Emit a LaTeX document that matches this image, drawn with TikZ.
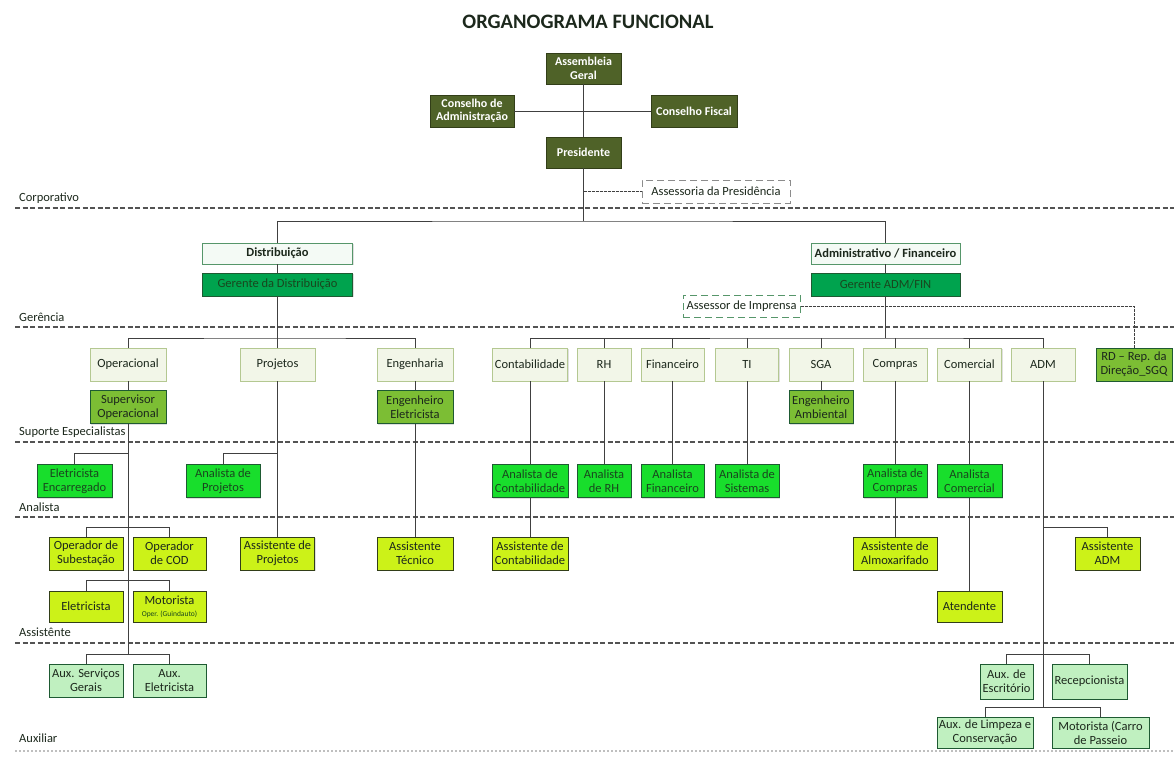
\documentclass[tikz,border=0pt]{standalone}
\usepackage{fontspec}
\setmainfont{Carlito}
\usetikzlibrary{shadows}

\definecolor{olivebg}{RGB}{79,98,40}
\definecolor{olivedk}{RGB}{50,62,24}
\definecolor{areabg}{RGB}{244,250,245}
\definecolor{arealine}{RGB}{86,150,106}
\definecolor{gerbg}{RGB}{0,163,78}
\definecolor{gerline}{RGB}{30,90,50}
\definecolor{deptbg}{RGB}{242,246,232}
\definecolor{deptline}{RGB}{180,200,145}
\definecolor{supbg}{RGB}{124,190,52}
\definecolor{anbg}{RGB}{24,222,44}
\definecolor{asbg}{RGB}{204,242,24}
\definecolor{auxbg}{RGB}{192,240,192}
\definecolor{darkline}{RGB}{55,70,40}
\definecolor{txtdark}{RGB}{28,40,28}
\definecolor{txtgreen}{RGB}{25,70,30}
\definecolor{connline}{RGB}{64,64,64}

\tikzset{
  box/.style={draw=darkline, line width=0.9pt, align=center, inner sep=1pt, text=txtdark,
    font=\fontsize{12.5}{14}\selectfont,
    drop shadow={shadow xshift=1.3pt, shadow yshift=-1.3pt, opacity=0.25}},
  olivebox/.style={box, fill=olivebg, draw=olivedk, text=white, font=\bfseries\fontsize{12}{13.5}\selectfont, minimum width=75pt, minimum height=31pt},
  areabox/.style={box, fill=areabg, draw=arealine, font=\bfseries\fontsize{12.5}{14}\selectfont, minimum height=21pt},
  gerbox/.style={box, fill=gerbg, draw=gerline, text=txtgreen, minimum height=23pt},
  deptbox/.style={box, fill=deptbg, draw=deptline, minimum height=33pt},
  supbox/.style={box, fill=supbg, draw=gerline, minimum height=33pt},
  anbox/.style={box, fill=anbg, draw=gerline, text=txtgreen, minimum height=33pt},
  asbox/.style={box, fill=asbg, draw=olivedk, minimum height=33pt},
  auxbox/.style={box, fill=auxbg, draw=gerline, minimum height=33pt},
  assbox/.style={draw=#1, dash pattern=on 7pt off 4pt, line width=1pt, fill=white, inner sep=1pt,
    text=txtdark, font=\fontsize{12.5}{14}\selectfont},
  conn/.style={draw=connline, line width=0.9pt},
  dconn/.style={draw=connline, line width=0.8pt, dash pattern=on 3pt off 1pt},
  lvl/.style={draw=connline!90, line width=1.1pt, dash pattern=on 5pt off 2.5pt},
  lvltxt/.style={anchor=west, inner sep=0pt, text=txtdark, font=\fontsize{12.5}{14}\selectfont}
}

\begin{document}
\begin{tikzpicture}[x=1pt,y=-1pt]
\useasboundingbox (0,0) rectangle (1174,758);
\fill[white] (0,0) rectangle (1174,758);

\node[inner sep=0pt, text=txtdark, font=\bfseries\fontsize{20.5}{22}\selectfont] (title) at (588,22) {ORGANOGRAMA FUNCIONAL};

\draw[lvl] (15,208) -- (1174,208);
\draw[lvl] (15,327) -- (1174,327);
\draw[lvl] (15,442) -- (1174,442);
\draw[lvl] (15,517) -- (1174,517);
\draw[lvl] (15,643) -- (1174,643);
\draw[lvl, draw=black!25, dash pattern=on 2pt off 2pt] (15,751) -- (1174,751);
\node[lvltxt] (lcorp) at (19,198) {Corporativo};
\node[lvltxt] (lger) at (19,317) {Gerência};
\node[lvltxt] (lsup) at (19,432) {Suporte Especialistas};
\node[lvltxt] (lana) at (19,507) {Analista};
\node[lvltxt] (lass) at (19,632) {Assistênte};
\node[lvltxt] (laux) at (19,738) {Auxiliar};

\node[olivebox] (asm) at (583.5,68.5) {Assembleia\\Geral};
\node[olivebox, minimum width=84pt, minimum height=32pt] (cadm) at (472,111) {Conselho de\\Administração};
\node[olivebox, minimum width=86pt, minimum height=32pt] (cfis) at (694,111) {Conselho Fiscal};
\node[olivebox] (pres) at (583.5,152.5) {Presidente};
\node[assbox=black!45, minimum width=148pt, minimum height=23pt] (asspres) at (716,191.5) {Assessoria da Presidência};

\node[areabox, minimum width=150pt] (dist) at (277.5,253.5) {Distribuição};
\node[gerbox, minimum width=150pt] (gdist) at (277.5,284.5) {Gerente da Distribuição};
\node[areabox, minimum width=149pt] (admfin) at (885.5,253.5) {Administrativo / Financeiro};
\node[gerbox, minimum width=149pt] (gadm) at (885.5,284.5) {Gerente ADM/FIN};
\node[assbox=arealine, minimum width=117pt, minimum height=22pt] (assimp) at (741.5,306) {Assessor de Imprensa};

\node[deptbox, minimum width=76pt] (oper) at (128,364.5) {Operacional};
\node[deptbox, minimum width=75pt] (proj) at (277.5,364.5) {Projetos};
\node[deptbox, minimum width=76pt] (eng) at (415,364.5) {Engenharia};
\node[deptbox, minimum width=75pt] (cont) at (530,364.5) {Contabilidade};
\node[deptbox, minimum width=54pt] (rh) at (604,364.5) {RH};
\node[deptbox, minimum width=63pt] (fin) at (672.5,364.5) {Financeiro};
\node[deptbox, minimum width=63pt] (ti) at (747,364.5) {TI};
\node[deptbox, minimum width=64pt] (sga) at (821,364.5) {SGA};
\node[deptbox, minimum width=64pt] (comp) at (895,364.5) {Compras};
\node[deptbox, minimum width=64pt] (come) at (969.5,364.5) {Comercial};
\node[deptbox, minimum width=64pt] (adm) at (1043,364.5) {ADM};
\node[supbox, minimum width=76pt] (rd) at (1134,364.5) {RD – Rep. da\\Direção\_SGQ};

\node[supbox, minimum width=76pt] (sup) at (128,407) {Supervisor\\Operacional};
\node[supbox, minimum width=76pt] (engel) at (415,407) {Engenheiro\\Eletricista};
\node[supbox, minimum width=64pt] (engamb) at (821,407) {Engenheiro\\Ambiental};

\node[anbox, minimum width=75pt] (eletenc) at (74.5,481) {Eletricista\\Encarregado};
\node[anbox, minimum width=74pt] (anproj) at (223,481) {Analista de\\Projetos};
\node[anbox, minimum width=76pt] (ancont) at (530,481) {Analista de\\Contabilidade};
\node[anbox, minimum width=54pt] (anrh) at (604,481) {Analista\\de RH};
\node[anbox, minimum width=63pt] (anfin) at (672.5,481) {Analista\\Financeiro};
\node[anbox, minimum width=64pt] (ansis) at (747,481) {Analista de\\Sistemas};
\node[anbox, minimum width=64pt] (ancomp) at (895,481) {Analista de\\Compras};
\node[anbox, minimum width=65pt] (ancome) at (969.5,481) {Analista\\Comercial};

\node[asbox, minimum width=74pt] (opsub) at (86,553.5) {Operador de\\Subestação};
\node[asbox, minimum width=73pt] (opcod) at (169.5,553.5) {Operador\\de COD};
\node[asbox, minimum width=74pt] (asproj) at (277.5,553.5) {Assistente de\\Projetos};
\node[asbox, minimum width=76pt] (astec) at (415,553.5) {Assistente\\Técnico};
\node[asbox, minimum width=76pt] (ascont) at (530,553.5) {Assistente de\\Contabilidade};
\node[asbox, minimum width=84pt] (asalm) at (895,553.5) {Assistente de\\Almoxarifado};
\node[asbox, minimum width=65pt] (asadm) at (1107.5,553.5) {Assistente\\ADM};

\node[asbox, minimum width=74pt, minimum height=31pt] (eletr) at (86,606.5) {Eletricista};
\node[asbox, minimum width=73pt, minimum height=31pt] (motor) at (169.5,606.5) {Motorista\\[-2pt]{\fontsize{7.5}{8}\selectfont\color{txtgreen}Oper. (Guindauto)}};
\node[asbox, minimum width=65pt, minimum height=31pt] (atend) at (969.5,606.5) {Atendente};

\node[auxbox, minimum width=74pt] (auxsg) at (86,680.5) {Aux. Serviços\\Gerais};
\node[auxbox, minimum width=73pt] (auxel) at (169.5,680.5) {Aux.\\Eletricista};
\node[auxbox, minimum width=53pt, minimum height=35pt] (auxesc) at (1006.5,681.5) {Aux. de\\Escritório};
\node[auxbox, minimum width=75pt, minimum height=35pt] (recep) at (1089.5,681.5) {Recepcionista};
\node[auxbox, minimum width=96pt, minimum height=31pt] (auxlimp) at (985,732.5) {Aux. de Limpeza e\\Conservação};
\node[auxbox, minimum width=97pt, minimum height=31pt] (motcar) at (1100.5,732.5) {Motorista (Carro\\de Passeio};

\coordinate (b0) at (583.5,221);
\coordinate (b1) at (277.5,338);
\coordinate (b2) at (885.5,338);
\coordinate (o1) at (128,453);
\coordinate (o2) at (128,527);
\coordinate (o3) at (128,580);
\coordinate (o4) at (128,654);
\coordinate (p1) at (277.5,453);
\coordinate (a1) at (1043,527);
\coordinate (a2) at (1043,654);
\coordinate (a3) at (1043,707);

\draw[conn] (asm) -- (pres);
\draw[conn] (cadm) -- (cfis);
\draw[conn] (pres) -- (b0);
\draw[dconn] (pres.south |- asspres.west) -- (asspres.west);
\draw[conn] (dist.north) |- (b0) -| (admfin.north);
\draw[conn] (dist) -- (gdist);
\draw[conn] (admfin) -- (gadm);
\draw[dconn] (assimp.east) -| (rd.north);

\draw[conn] (gdist) -- (proj);
\draw[conn] (oper.north) |- (b1) -| (eng.north);
\draw[conn] (gadm) -- (b2);
\draw[conn] (cont.north) |- (b2) -| (adm.north);
\foreach \d in {rh,fin,ti,sga,comp,come}
  \draw[conn] (\d.north) -- (\d.north |- b2);

\draw[conn] (oper) -- (sup);
\draw[conn] (sup) -- (o4);
\draw[conn] (o1) -| (eletenc.north);
\draw[conn] (opsub.north) |- (o2) -| (opcod.north);
\draw[conn] (eletr.north) |- (o3) -| (motor.north);
\draw[conn] (auxsg.north) |- (o4) -| (auxel.north);

\draw[conn] (proj) -- (asproj);
\draw[conn] (p1) -| (anproj.north);
\draw[conn] (eng) -- (engel);
\draw[conn] (engel) -- (astec);

\draw[conn] (cont) -- (ancont);
\draw[conn] (ancont) -- (ascont);
\draw[conn] (rh) -- (anrh);
\draw[conn] (fin) -- (anfin);
\draw[conn] (ti) -- (ansis);
\draw[conn] (sga) -- (engamb);
\draw[conn] (comp) -- (ancomp);
\draw[conn] (ancomp) -- (asalm);
\draw[conn] (come) -- (ancome);
\draw[conn] (ancome) -- (atend);

\draw[conn] (adm) -- (a3);
\draw[conn] (a1) -| (asadm.north);
\draw[conn] (auxesc.north) |- (a2) -| (recep.north);
\draw[conn] (auxlimp.north) |- (a3) -| (motcar.north);
\end{tikzpicture}
\end{document}
